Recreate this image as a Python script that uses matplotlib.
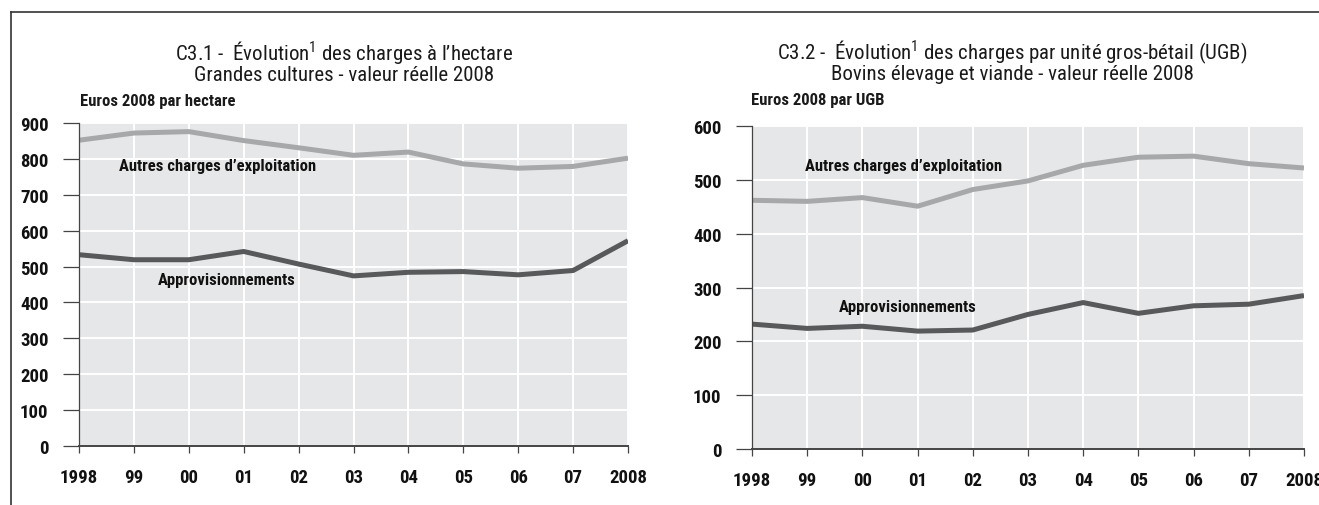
import matplotlib
matplotlib.use("Agg")
import matplotlib.pyplot as plt
from matplotlib import font_manager
from matplotlib.lines import Line2D

years = list(range(1998, 2009))
year_labels = ["1998", "99", "00", "01", "02", "03", "04", "05", "06", "07", "2008"]

# C3.1 grandes cultures, euros 2008 par hectare
ha_autres = [852, 872, 876, 851, 831, 810, 819, 786, 774, 779, 802]
ha_appro = [533, 519, 519, 542, 507, 474, 484, 486, 477, 489, 572]

# C3.2 bovins, euros 2008 par UGB
ugb_autres = [462, 460, 467, 451, 482, 498, 527, 542, 544, 530, 522]
ugb_appro = [232, 224, 228, 219, 221, 250, 272, 252, 266, 269, 285]

# find a narrow font if there is one
names = set(f.name for f in font_manager.fontManager.ttflist)
FONT = "DejaVu Sans"
STRETCH = "condensed"
for cand in ["Liberation Sans Narrow", "Roboto Condensed", "Open Sans Condensed"]:
    if cand in names:
        FONT = cand
        STRETCH = "normal"
        break

plt.rcParams["mathtext.fontset"] = "custom"
plt.rcParams["mathtext.rm"] = FONT
plt.rcParams["mathtext.it"] = FONT + ":italic"
plt.rcParams["mathtext.bf"] = FONT + ":bold"

LIGHT = "#a7a8aa"
DARK = "#58595b"
BG = "#e6e7e8"
W, H = 1319, 506

fig = plt.figure(figsize=(W / 100, H / 100), dpi=100)


def px_axes(x0, x1, ytop, ybot):
    return fig.add_axes([x0 / W, 1 - ybot / H, (x1 - x0) / W, (ybot - ytop) / H])


def setup(ax, ymax):
    ax.set_facecolor(BG)
    ax.set_xlim(1998, 2008)
    ax.set_ylim(0, ymax)
    ax.set_xticks(years)
    ax.set_xticklabels(year_labels)
    ax.set_yticks(range(0, ymax + 1, 100))
    ax.grid(True, color="white", lw=1.4)
    ax.set_axisbelow(True)
    for s in ["top", "right"]:
        ax.spines[s].set_visible(False)
    ax.spines["left"].set_color("#444444")
    ax.spines["left"].set_linewidth(0.9)
    ax.spines["bottom"].set_color("#444444")
    ax.spines["bottom"].set_linewidth(1.4)
    ax.tick_params(axis="y", length=11.5, width=0.9, color="#444444", pad=10.5)
    ax.tick_params(axis="x", length=5, width=0.9, color="#444444", pad=11)
    for lab in ax.get_xticklabels() + ax.get_yticklabels():
        lab.set_fontfamily(FONT)
        lab.set_fontstretch(STRETCH)
        lab.set_fontweight("bold")
        lab.set_fontsize(13.5)
        lab.set_color("#111111")


def label(ax, x, y, s):
    ax.text(x, y, s, family=FONT, stretch=STRETCH, weight="bold", fontsize=12,
            va="center", ha="left", color="#111111")


ax1 = px_axes(79, 628, 124, 447)
setup(ax1, 900)
ax1.plot(years, ha_autres, color=LIGHT, lw=3.6, solid_capstyle="butt")
ax1.plot(years, ha_appro, color=DARK, lw=3.6, solid_capstyle="butt")
label(ax1, 1998.73, 781, "Autres charges d\u2019exploitation")
label(ax1, 1999.44, 464, "Approvisionnements")

ax2 = px_axes(752, 1304, 127, 450)
setup(ax2, 600)
ax2.plot(years, ugb_autres, color=LIGHT, lw=3.6, solid_capstyle="butt")
ax2.plot(years, ugb_appro, color=DARK, lw=3.6, solid_capstyle="butt")
label(ax2, 1998.96, 527, "Autres charges d\u2019exploitation")
label(ax2, 1999.58, 264, "Approvisionnements")


def ftext(x, y, s, **kw):
    fig.text(x / W, 1 - y / H, s, family=FONT, stretch=STRETCH, color="#1a1a1a", **kw)


ftext(344, 60, "C3.1 -  \u00c9volution$^{1}$ des charges \u00e0 l\u2019hectare",
      fontsize=15, ha="center", va="baseline")
ftext(344, 81, "Grandes cultures - valeur r\u00e9elle 2008",
      fontsize=15, ha="center", va="baseline")
ftext(1012, 59, "C3.2 -  \u00c9volution$^{1}$ des charges par unit\u00e9 gros-b\u00e9tail (UGB)",
      fontsize=15, ha="center", va="baseline")
ftext(1012, 80, "Bovins \u00e9levage et viande - valeur r\u00e9elle 2008",
      fontsize=15, ha="center", va="baseline")
ftext(80, 106, "Euros 2008 par hectare", fontsize=12, weight="bold", ha="left", va="baseline")
ftext(751, 105, "Euros 2008 par UGB", fontsize=12, weight="bold", ha="left", va="baseline")

# outer frame (top and left edges)
fig.add_artist(Line2D([11 / W, 1], [1 - 13 / H, 1 - 13 / H], color="#333333", lw=1.2))
fig.add_artist(Line2D([11 / W, 11 / W], [0, 1 - 13 / H], color="#333333", lw=1.2))

fig.savefig("out.png", dpi=100, facecolor="white")
